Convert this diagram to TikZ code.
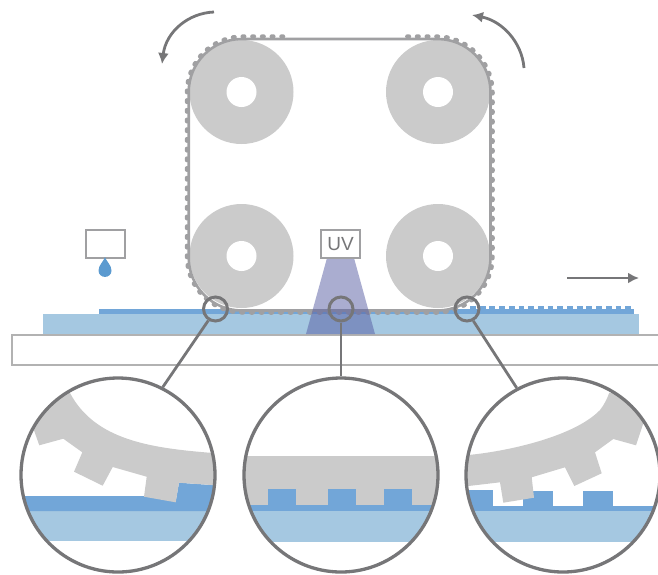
\documentclass[tikz,border=0pt]{standalone}
\usepackage{fontspec}
\setsansfont{Liberation Sans}
\usetikzlibrary{arrows.meta}

\definecolor{pulleygray}{HTML}{CBCBCB}
\definecolor{beltgray}{HTML}{A0A0A2}
\definecolor{linegray}{HTML}{767678}
\definecolor{tablegray}{HTML}{B2B2B2}
\definecolor{resinblue}{HTML}{72A6D8}
\definecolor{filmblue}{HTML}{A5C8E1}
\definecolor{dropblue}{HTML}{5B9AD0}
\definecolor{uvviolet}{HTML}{585EA3}

\tikzset{
	spin/.style={-{Latex[length=11pt,width=11pt]},line width=2.8pt,linegray},
	lens/.style={circle,draw=linegray,line width=3pt,inner sep=0pt,minimum size=24pt},
	detail/.style={lens,line width=3.3pt,minimum size=194pt},
	leader/.style={linegray,line width=2.8pt},
	box/.style={draw=beltgray,line width=2pt},
}

\newcommand*{\detailr}{97pt}

\begin{document}
\begin{tikzpicture}[x=1pt,y=-1pt]

	\useasboundingbox (0,0) rectangle (658,574);

	% table and film
	\draw[tablegray,line width=1.9pt] (658,335) -- (12,335) -- (12,365) -- (658,365);
	\fill[filmblue] (43,314) rectangle (639,334);
	\fill[resinblue] (99,309) rectangle (634,314);
	\draw[resinblue,line width=3.4pt,dash pattern=on 5.8pt off 3.9pt] (470,307.5) -- (632,307.5);

	% pulleys
	\foreach \px in {241.5,438}
		\foreach \py in {92,256} {
			\fill[pulleygray] (\px,\py) circle[radius=52pt];
			\fill[white] (\px,\py) circle[radius=15pt];
		}

	% belt
	\draw[beltgray,line width=2.6pt,rounded corners=53pt] (340,39) -- (188.7,39) -- (188.7,310.5) -- (490.5,310.5) -- (490.5,39) -- cycle;
	\draw[beltgray,line width=4.5pt,line cap=round,rounded corners=56pt,dash pattern=on 1.5pt off 8.2pt] (283,36.5) -- (187,36.5) -- (187,312.5) -- (492.5,312.5) -- (492.5,36.5) -- (403,36.5);

	% rotation
	\draw[spin] (214,12) .. controls (188,13) and (166,32) .. (162,64);
	\draw[spin] (524,68) .. controls (522,42) and (502,21) .. (472,15);
	\draw[spin] (567,278) -- (639,278);

	% dispenser
	\draw[box] (86,230) rectangle (125,258);
	\fill[dropblue] (105,257) .. controls (106,261) and (111.5,265) .. (111.5,270.5) .. controls (111.5,279) and (98.5,279) .. (98.5,270.5) .. controls (98.5,265) and (104,261) .. (105,257);

	% uv lamp
	\fill[uvviolet,opacity=0.51] (327,258) -- (354,258) -- (375,334) -- (306,334) -- cycle;
	\node[box,fill=white,minimum width=39pt,minimum height=28pt,inner sep=0pt,text=linegray,font=\sffamily\fontsize{19}{19}\selectfont] (uvbox) at (340.5,244) {UV};

	% left detail
	\begin{scope}
		\clip (118,475) circle[radius=\detailr];
		\fill[filmblue] (15,511) rectangle (220,541);
		\fill[resinblue] (15,496) -- (150,496) -- (176,500) -- (179,482.7) -- (220,485.6) -- (220,511) -- (15,511) -- cycle;
		\fill[pulleygray] (25,405) -- (33.3,428.3) -- (39.3,445.3) -- (63.3,438.7) -- (82.3,452.3) -- (74,471.7) -- (102.7,485.7) -- (112.7,467) -- (146.7,476.7) -- (144,496.7) -- (175.7,502.3) -- (179,482.7) -- (220,485.6) -- (220,453.3) -- (213,453) .. controls (150,448) and (95,440) .. (70,393) -- (60,380) -- cycle;
	\end{scope}

	% middle detail
	\begin{scope}
		\clip (341,475) circle[radius=\detailr];
		\fill[filmblue] (240,511) rectangle (442,542);
		\fill[pulleygray] (240,456) rectangle (442,505);
		\fill[resinblue] (240,505) rectangle (442,511);
		\foreach \rx in {268,328,384}
			\fill[resinblue] (\rx,489) rectangle ++(28,16);
	\end{scope}

	% right detail
	\begin{scope}
		\clip (563,475) circle[radius=\detailr];
		\fill[filmblue] (460,511) rectangle (665,542);
		\fill[resinblue] (460,506) rectangle (665,511);
		\fill[resinblue] (460,490) rectangle (493,506);
		\fill[resinblue] (523,491) rectangle (553,506);
		\fill[resinblue] (583,491) rectangle (613,506);
		\fill[pulleygray] (460,456) -- (468.3,455) .. controls (510,451) and (575,436) .. (600,410) .. controls (604,405) and (607,399) .. (609.3,392.7) -- (660,400) -- (643.3,423.3) -- (636,445.3) -- (613.3,439) -- (595,452.3) -- (601.7,473.3) -- (574.3,486) -- (565,467.3) -- (531.7,477.3) -- (534,497.7) -- (503.3,502.7) -- (500,482.3) -- (460,487) -- cycle;
	\end{scope}

	% callouts
	\node[lens] (lensL) at (215.5,309) {};
	\node[lens] (lensM) at (341,309) {};
	\node[lens] (lensR) at (467,309) {};
	\node[detail] (detailL) at (118,475) {};
	\node[detail] (detailM) at (341,475) {};
	\node[detail] (detailR) at (563,475) {};
	\draw[leader] (lensL.238) -- (detailL.63);
	\draw[leader] (lensM) -- (detailM);
	\draw[leader] (lensR.298) -- (detailR.118);

\end{tikzpicture}
\end{document}
